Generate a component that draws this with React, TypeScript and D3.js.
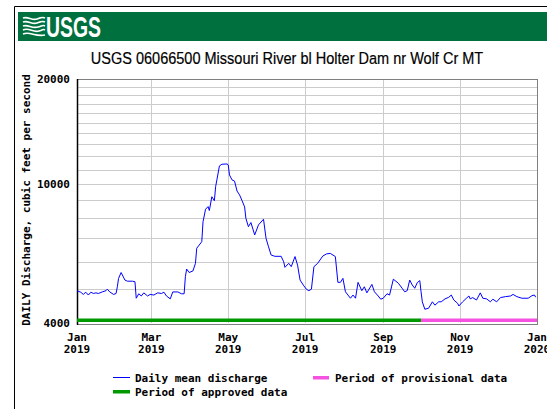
import React from "react";
import * as d3 from "d3";

// Daily mean discharge, ft³/s (vertices of the daily record)
const dates = [
  "2019-01-01","2019-01-04","2019-01-06","2019-01-08","2019-01-10","2019-01-12","2019-01-14","2019-01-16",
  "2019-01-18","2019-01-21","2019-01-24","2019-01-25","2019-01-27","2019-01-30","2019-02-01","2019-02-02",
  "2019-02-03","2019-02-05","2019-02-06","2019-02-08","2019-02-10","2019-02-14","2019-02-16","2019-02-17",
  "2019-02-19","2019-02-21","2019-02-23","2019-02-26","2019-02-28","2019-03-03","2019-03-06","2019-03-09",
  "2019-03-11","2019-03-13","2019-03-16","2019-03-18","2019-03-22","2019-03-25","2019-03-27","2019-03-28",
  "2019-03-29","2019-03-31","2019-04-03","2019-04-05","2019-04-06","2019-04-08","2019-04-10","2019-04-11",
  "2019-04-13","2019-04-15","2019-04-16","2019-04-18","2019-04-20","2019-04-21","2019-04-22","2019-04-24",
  "2019-04-26","2019-04-30","2019-05-01","2019-05-02","2019-05-04","2019-05-06","2019-05-08","2019-05-10",
  "2019-05-12","2019-05-14","2019-05-15","2019-05-17","2019-05-19","2019-05-22","2019-05-25","2019-05-29",
  "2019-05-31","2019-06-02","2019-06-04","2019-06-07","2019-06-12","2019-06-14","2019-06-15","2019-06-18",
  "2019-06-20","2019-06-23","2019-06-25","2019-06-27","2019-06-30","2019-07-02","2019-07-04","2019-07-06",
  "2019-07-08","2019-07-11","2019-07-15","2019-07-18","2019-07-21","2019-07-25","2019-07-27","2019-07-29",
  "2019-07-31","2019-08-02","2019-08-04","2019-08-06","2019-08-08","2019-08-10","2019-08-12","2019-08-15",
  "2019-08-17","2019-08-19","2019-08-23","2019-08-25","2019-08-28","2019-08-30","2019-09-01","2019-09-04",
  "2019-09-06","2019-09-09","2019-09-13","2019-09-16","2019-09-18","2019-09-20","2019-09-22","2019-09-24",
  "2019-09-26","2019-09-28","2019-09-30","2019-10-01","2019-10-02","2019-10-04","2019-10-07","2019-10-10",
  "2019-10-12","2019-10-15","2019-10-17","2019-10-20","2019-10-23","2019-10-25","2019-10-27","2019-10-30",
  "2019-10-31","2019-11-03","2019-11-06","2019-11-08","2019-11-09","2019-11-11","2019-11-14","2019-11-17",
  "2019-11-19","2019-11-22","2019-11-25","2019-11-27","2019-11-30","2019-12-03","2019-12-07","2019-12-11",
  "2019-12-13","2019-12-16","2019-12-20","2019-12-25","2019-12-28","2019-12-30","2019-12-31",
];

const discharge = [
  4950, 4900, 4830, 4900, 4810, 4900, 4860, 4880,
  4860, 4910, 4950, 5000, 4910, 4830, 4860, 5080,
  5370, 5580, 5490, 5310, 5270, 5270, 5250, 4710,
  4850, 4780, 4880, 4780, 4830, 4810, 4880, 4860,
  4900, 4780, 4690, 4910, 4910, 4850, 4850, 5430,
  5710, 5580, 5640, 5930, 6550, 6690, 6840, 7800,
  8470, 8620, 8400, 9200, 8960, 9830, 10280, 11270,
  11400, 11420, 11350, 10620, 10280, 10200, 9550, 9310,
  8960, 8600, 7980, 7550, 7760, 7150, 7640, 7930,
  6990, 6610, 6265, 6210, 6210, 5990, 5775, 5930,
  5800, 6200, 5860, 5310, 5110, 5000, 4950, 5000,
  5800, 5930, 6220, 6310, 6330, 6200, 5230, 5230,
  5370, 4915, 4810, 4710, 4810, 4710, 5230, 4950,
  5080, 4880, 5160, 4915, 4780, 4680, 4710, 4850,
  4810, 5340, 5200, 5030, 4915, 4950, 5310, 5140,
  5030, 5220, 5290, 4915, 4600, 4380, 4410, 4600,
  4500, 4600, 4600, 4690, 4740, 4810, 4655, 4555,
  4475, 4600, 4710, 4780, 4690, 4730, 4655, 4880,
  4710, 4690, 4600, 4680, 4600, 4730, 4760, 4780,
  4830, 4760, 4710, 4710, 4790, 4810, 4740,
];

const xTickDates = ["2019-01-01", "2019-03-01", "2019-05-01", "2019-07-01", "2019-09-01", "2019-11-01", "2020-01-01"];
const yTickLabels = [4000, 10000, 20000];
const yGridValues = d3.range(5000, 20000, 1000);
const periodStart = "2019-01-01";
const provisionalStart = "2019-10-01";
const periodEnd = "2020-01-01";

const mono = "'DejaVu Sans Mono', monospace";

export default function App() {
  const parse = d3.timeParse("%Y-%m-%d");
  const series = dates.map((d, i) => ({ date: parse(d) as Date, value: discharge[i] }));

  const left = 77, right = 537, top = 79, bottom = 323;
  const x = d3.scaleTime().domain([parse(periodStart) as Date, parse(periodEnd) as Date]).range([left, right]);
  const y = d3.scaleLog().domain([4000, 20000]).range([bottom, top]);

  const line = d3
    .line<{ date: Date; value: number }>()
    .x((d) => x(d.date))
    .y((d) => y(d.value));

  const fmtMon = d3.timeFormat("%b");
  const fmtYear = d3.timeFormat("%Y");

  const xApproved0 = x(parse(periodStart) as Date);
  const xProv = x(parse(provisionalStart) as Date);
  const xEnd = x(parse(periodEnd) as Date);

  return (
    <div style={{ position: "fixed", left: 0, top: 0 }}>
      <svg width={547} height={409} style={{ display: "block", background: "#fff" }}>
        {/* page frame */}
        <line x1={14.5} y1={6.5} x2={547} y2={6.5} stroke="#000" strokeWidth={1} />
        <line x1={14.5} y1={6.5} x2={14.5} y2={409} stroke="#000" strokeWidth={1} />

        {/* banner */}
        <rect x={18} y={12} width={529} height={29} fill="#00703f" />
        <g stroke="#fff" strokeWidth={1.6} fill="none">
          <path d="M23,18 C28,16 32,21 37,19 S43,17 45,18" />
          <path d="M23,22 C28,20 32,25 37,23 S43,21 45,22" />
          <path d="M23,26 C28,24 32,29 38,27 S43,25 45,26" />
          <path d="M23,30 C29,27 33,33 39,31 S43,29 45,30" />
          <path d="M23,34 C30,31 35,37 45,35" />
        </g>
        <text
          x={46}
          y={37}
          fill="#fff"
          fontFamily="'Liberation Sans Narrow', 'Arial Narrow', 'Liberation Sans', sans-serif"
          fontWeight="bold"
          fontSize={30}
          textLength={55}
          lengthAdjust="spacingAndGlyphs"
        >
          USGS
        </text>

        {/* title */}
        <g transform="translate(287,64) scale(0.88,1)">
          <text
            x={0}
            y={0}
            textAnchor="middle"
            fontFamily="'Liberation Sans', Arial, sans-serif"
            fontSize={16.5}
            fill="#000"
            stroke="#000"
            strokeWidth={0.2}
          >
            USGS 06066500 Missouri River bl Holter Dam nr Wolf Cr MT
          </text>
        </g>

        {/* grid */}
        {yGridValues.map((v) => (
          <line key={v} x1={left} x2={right} y1={Math.round(y(v)) + 0.5} y2={Math.round(y(v)) + 0.5} stroke="#cccccc" strokeWidth={1} />
        ))}
        {xTickDates.slice(1, -1).map((d) => {
          const xx = Math.round(x(parse(d) as Date)) + 0.5;
          return <line key={d} x1={xx} x2={xx} y1={top} y2={bottom} stroke="#cccccc" strokeWidth={1} />;
        })}

        {/* plot frame */}
        <rect x={left + 0.5} y={top + 0.5} width={right - left} height={bottom - top + 1} fill="none" stroke="#808080" strokeWidth={1} />
        <line x1={left + 0.5} x2={left + 0.5} y1={top} y2={bottom + 2} stroke="#000" strokeWidth={1.5} />

        {/* approval status bar */}
        <rect x={xApproved0} y={318.5} width={xProv - xApproved0} height={3.5} fill="#009a00" />
        <rect x={xProv} y={318.5} width={xEnd - xProv} height={3.5} fill="#f552e2" />

        {/* discharge line */}
        <path d={line(series) || ""} fill="none" stroke="#0000ff" strokeWidth={1} />

        {/* y tick labels */}
        {yTickLabels.map((v) => (
          <text key={v} x={70} y={y(v) + 4} textAnchor="end" fontFamily={mono} fontWeight="bold" fontSize={11} fill="#000">
            {v}
          </text>
        ))}

        {/* y axis title */}
        <text
          transform={`translate(30,200) rotate(-90)`}
          textAnchor="middle"
          fontFamily={mono}
          fontWeight="bold"
          fontSize={11}
          fill="#000"
        >
          DAILY Discharge, cubic feet per second
        </text>

        {/* x tick labels */}
        {xTickDates.map((d) => {
          const dt = parse(d) as Date;
          return (
            <g key={d} fontFamily={mono} fontWeight="bold" fontSize={11} fill="#000" textAnchor="middle">
              <text x={x(dt)} y={341}>{fmtMon(dt)}</text>
              <text x={x(dt)} y={353}>{fmtYear(dt)}</text>
            </g>
          );
        })}

        {/* legend */}
        <g fontFamily={mono} fontWeight="bold" fontSize={11} fill="#000">
          <line x1={113} x2={130} y1={377.5} y2={377.5} stroke="#0000ff" strokeWidth={1} />
          <text x={135} y={382}>Daily mean discharge</text>
          <rect x={113} y={390} width={17} height={3.5} fill="#009a00" />
          <text x={135} y={396}>Period of approved data</text>
          <rect x={313} y={376} width={16} height={3.5} fill="#f552e2" />
          <text x={335} y={382}>Period of provisional data</text>
        </g>
      </svg>
    </div>
  );
}
